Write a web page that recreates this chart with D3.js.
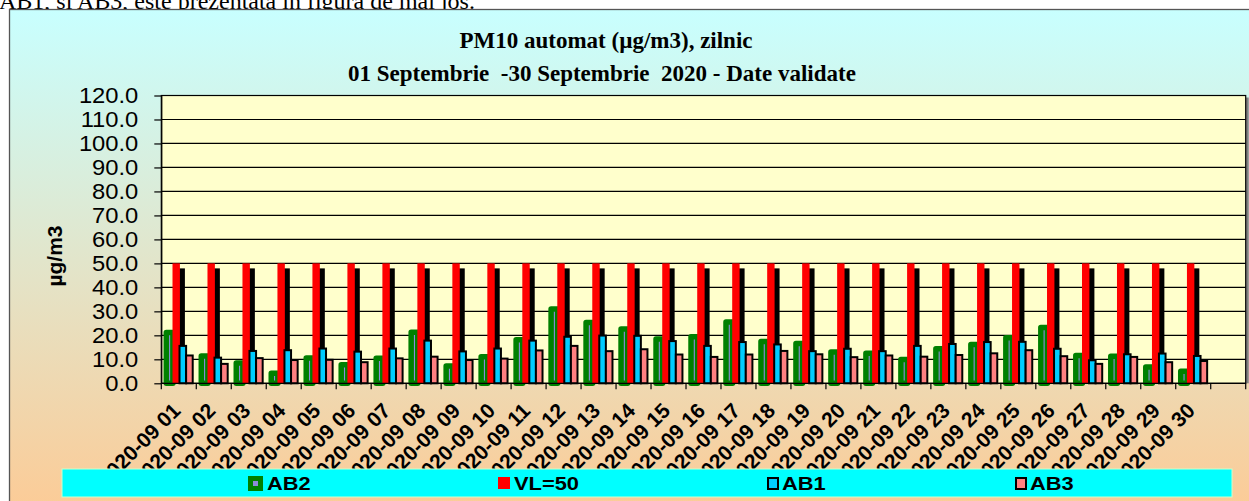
<!DOCTYPE html>
<html>
<head>
<meta charset="utf-8">
<script src="https://cdn.jsdelivr.net/npm/d3@7"></script>
<style>
  body { margin: 0; background: #fff; overflow: hidden; }
  text { font-family: "Liberation Sans", Arial, sans-serif; }
  text.serif { font-family: "Liberation Serif", "Times New Roman", serif; }
</style>
</head>
<body>
<svg id="chart"></svg>
<script>
// data
const days = ["2020-09 01", "2020-09 02", "2020-09 03", "2020-09 04", "2020-09 05", "2020-09 06",
  "2020-09 07", "2020-09 08", "2020-09 09", "2020-09 10", "2020-09 11", "2020-09 12", "2020-09 13",
  "2020-09 14", "2020-09 15", "2020-09 16", "2020-09 17", "2020-09 18", "2020-09 19", "2020-09 20",
  "2020-09 21", "2020-09 22", "2020-09 23", "2020-09 24", "2020-09 25", "2020-09 26", "2020-09 27",
  "2020-09 28", "2020-09 29", "2020-09 30"];
const ab2 = [21.2, 11.4, 8.5, 4.2, 10.6, 7.7, 10.4, 21.3, 7.2, 11.1, 18.2, 31.0, 25.4, 22.6, 18.5,
  19.4, 25.6, 17.4, 16.6, 13.0, 12.5, 9.9, 14.4, 16.2, 19.0, 23.3, 11.6, 11.3, 6.8, 5.0];
const vl = [50, 50, 50, 50, 50, 50, 50, 50, 50, 50, 50, 50, 50, 50, 50,
  50, 50, 50, 50, 50, 50, 50, 50, 50, 50, 50, 50, 50, 50, 50];
const ab1 = [15.6, 10.7, 13.5, 13.8, 14.5, 13.2, 14.5, 17.8, 13.3, 14.5, 17.8, 19.4, 19.9, 19.8, 17.6,
  15.6, 17.2, 16.2, 13.4, 14.4, 13.4, 15.6, 16.4, 17.2, 17.3, 14.4, 9.6, 12.1, 12.4, 11.4];
const ab3 = [11.6, 8.1, 10.5, 9.7, 9.8, 8.8, 10.4, 11.1, 9.7, 10.3, 13.7, 15.6, 13.4, 14.2, 12.0,
  11.0, 12.0, 13.5, 12.1, 10.9, 11.6, 11.1, 11.8, 12.5, 13.8, 11.3, 8.1, 11.0, 8.8, 9.3];
const seriesNames = ["AB2", "VL=50", "AB1", "AB3"];
const yTicks = [0, 10, 20, 30, 40, 50, 60, 70, 80, 90, 100, 110, 120];

// constants
const width = 1249;
const height = 501;
const plot = { left: 161.3, top: 95.5, right: 1245.7, bottom: 383.3 };
const colors = { AB2: "#008000", "VL=50": "#ff0000", AB1: "#00ccff", AB3: "#ff8080" };

const svg = d3.select('svg#chart').attr('width', width).attr('height', height);

// line of document text cut off by the chart frame
svg.append('text')
    .attr('class', 'serif')
    .attr('x', -1).attr('y', 9)
    .attr('font-size', 24)
    .text('AB1, şi AB3, este prezentată în figura de mai jos.');

// chart area background
const grad = svg.append('defs').append('linearGradient')
    .attr('id', 'bg').attr('x1', 0).attr('y1', 0).attr('x2', 0).attr('y2', 1);
grad.append('stop').attr('offset', '0%').attr('stop-color', '#c8ffff');
grad.append('stop').attr('offset', '100%').attr('stop-color', '#fdca94');
svg.append('rect')
    .attr('x', 9.5).attr('y', 9.5).attr('width', 1260).attr('height', 512)
    .attr('fill', 'url(#bg)').attr('stroke', '#555').attr('stroke-width', 1.3);

// title
svg.append('text').attr('class', 'serif')
    .attr('x', 606).attr('y', 48)
    .attr('font-weight', 'bold').attr('font-size', 23).attr('text-anchor', 'middle')
    .text('PM10 automat (µg/m3), zilnic');
svg.append('text').attr('class', 'serif')
    .attr('x', 602).attr('y', 81)
    .attr('font-weight', 'bold').attr('font-size', 23).attr('text-anchor', 'middle')
    .style('white-space', 'pre')
    .text('01 Septembrie  -30 Septembrie  2020 - Date validate');

// scales
const x = d3.scaleBand().domain(days)
    .range([plot.left, plot.right - (plot.right - plot.left) / 31]);
const x1 = d3.scaleBand().domain(seriesNames)
    .range([x.bandwidth() * 0.143, x.bandwidth() * 0.898]);
const y = d3.scaleLinear().domain([0, 120]).range([plot.bottom, plot.top]);

// plot area
svg.append('rect')
    .attr('x', plot.right).attr('y', plot.top + 2)
    .attr('width', 3).attr('height', plot.bottom - plot.top - 2).attr('fill', '#808080');
svg.append('rect')
    .attr('x', plot.left).attr('y', plot.top)
    .attr('width', plot.right - plot.left).attr('height', plot.bottom - plot.top)
    .attr('fill', '#ffffcc').attr('stroke', '#000').attr('stroke-width', 1.2);

// gridlines
svg.append('g').selectAll('line')
    .data(yTicks.filter(d => d > 0 && d < 120))
    .join('line')
    .attr('x1', plot.left).attr('x2', plot.right)
    .attr('y1', d => y(d)).attr('y2', d => y(d))
    .attr('stroke', '#000').attr('stroke-width', 1.2);

// y axis
const yAxis = svg.append('g')
    .attr('transform', 'translate(' + plot.left + ',0)')
    .call(d3.axisLeft(y).tickValues(yTicks).tickFormat(d3.format('.1f'))
        .tickSize(7).tickSizeOuter(0).tickPadding(16));
yAxis.select('.domain').attr('stroke', '#000').attr('stroke-width', 1.2);
yAxis.selectAll('line').attr('stroke', '#000').attr('stroke-width', 1.2);
yAxis.selectAll('text')
    .attr('font-size', 22).attr('fill', '#000')
    .attr('x', -23 / 1.08).attr('transform', 'scale(1.08,1)')
    .style('font-family', '"Liberation Sans", Arial, sans-serif');

svg.append('text')
    .attr('transform', 'translate(62,256) rotate(-90)')
    .attr('text-anchor', 'middle')
    .attr('font-weight', 'bold').attr('font-size', 21)
    .text('µg/m3');

// bars
const series = [
  { key: "AB2", values: ab2 },
  { key: "VL=50", values: vl },
  { key: "AB1", values: ab1 },
  { key: "AB3", values: ab3 },
];
const bw = x1.bandwidth();

// AB2: thick green border round a lavender core
svg.append('g').selectAll('rect')
    .data(days.map((d, i) => ({ day: d, v: series[0].values[i] })))
    .join('rect')
    .attr('x', d => x(d.day) + x1('AB2'))
    .attr('y', d => y(d.v))
    .attr('width', bw)
    .attr('height', d => y(0) - y(d.v))
    .attr('fill', '#8c8cd9')
    .attr('stroke', colors.AB2).attr('stroke-width', 5.5)
    .attr('stroke-linejoin', 'round');

// VL=50 with its drop shadow
const vlData = days.map((d, i) => ({ day: d, v: series[1].values[i] }));
svg.append('g').selectAll('rect')
    .data(vlData)
    .join('rect')
    .attr('x', d => x(d.day) + x1('VL=50') + 4.6)
    .attr('y', d => y(d.v) + 5)
    .attr('width', bw + 0.8)
    .attr('height', d => y(0) - y(d.v) - 5)
    .attr('fill', '#000');
svg.append('g').selectAll('rect')
    .data(vlData)
    .join('rect')
    .attr('x', d => x(d.day) + x1('VL=50') - 0.4)
    .attr('y', d => y(d.v))
    .attr('width', bw + 0.8)
    .attr('height', d => y(0) - y(d.v))
    .attr('fill', colors["VL=50"]);

// AB1 and AB3, black outline
series.slice(2).forEach(s => {
  svg.append('g').selectAll('rect')
      .data(days.map((d, i) => ({ day: d, v: s.values[i] })))
      .join('rect')
      .attr('x', d => x(d.day) + x1(s.key))
      .attr('y', d => y(d.v))
      .attr('width', bw)
      .attr('height', d => y(0) - y(d.v))
      .attr('fill', colors[s.key])
      .attr('stroke', '#000').attr('stroke-width', 2);
});

// x axis line and ticks between categories
svg.append('line')
    .attr('x1', plot.left).attr('x2', plot.right)
    .attr('y1', plot.bottom).attr('y2', plot.bottom)
    .attr('stroke', '#000').attr('stroke-width', 1.2);
const bounds = days.map(d => x(d)).concat([x.range()[1], plot.right]);
svg.append('g').selectAll('line')
    .data(bounds)
    .join('line')
    .attr('x1', d => d).attr('x2', d => d)
    .attr('y1', plot.bottom).attr('y2', plot.bottom + 6)
    .attr('stroke', '#000').attr('stroke-width', 1.2);

// rotated day labels
svg.append('g').selectAll('text')
    .data(days)
    .join('text')
    .attr('transform', d => 'translate(' + (x(d) + x.bandwidth() / 2 + 3) + ',412) rotate(-45)')
    .attr('text-anchor', 'end')
    .attr('font-weight', 'bold').attr('font-size', 21)
    .text(d => d);

// legend
svg.append('rect')
    .attr('x', 62).attr('y', 469).attr('width', 1170).attr('height', 28)
    .attr('fill', '#00ffff').attr('stroke', '#ccffcc').attr('stroke-width', 1);

const legendPos = [
  { key: "AB2", mx: 248, tx: 267 },
  { key: "VL=50", mx: 498, tx: 514 },
  { key: "AB1", mx: 767, tx: 782 },
  { key: "AB3", mx: 1015, tx: 1030 },
];
const legend = svg.append('g');
legendPos.forEach(p => {
  if (p.key === "AB2") {
    legend.append('rect').attr('x', p.mx + 2.5).attr('y', 478.5).attr('width', 10).attr('height', 10)
        .attr('fill', '#8c8cd9').attr('stroke', colors.AB2).attr('stroke-width', 5);
  } else if (p.key === "VL=50") {
    legend.append('rect').attr('x', p.mx).attr('y', 477).attr('width', 12).attr('height', 12)
        .attr('fill', colors[p.key]);
  } else {
    legend.append('rect').attr('x', p.mx + 1).attr('y', 478).attr('width', 10).attr('height', 11)
        .attr('fill', colors[p.key]).attr('stroke', '#000').attr('stroke-width', 2);
  }
  legend.append('text')
      .attr('transform', 'translate(' + p.tx + ',490) scale(1.15,1)')
      .attr('font-weight', 'bold').attr('font-size', 19)
      .text(p.key);
});
</script>
</body>
</html>
